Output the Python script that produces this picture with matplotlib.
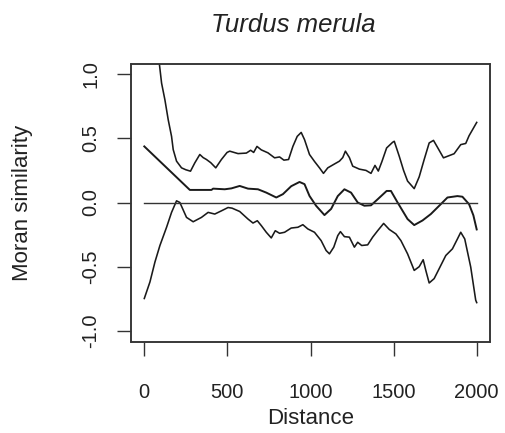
import matplotlib
matplotlib.use("Agg")
import matplotlib.pyplot as plt
from matplotlib.patches import Rectangle

plt.rcParams['font.family'] = ['Liberation Sans', 'DejaVu Sans']

# Data (distance vs Moran similarity)
upper_x = [0, 40, 80, 104, 124, 144, 164, 174, 194, 224, 250, 278, 304, 334, 354, 374, 400, 430, 464,
           498, 514, 564, 614, 640, 658, 678, 704, 744, 784, 814, 840, 868, 894, 920, 944, 964, 994,
           1024, 1054, 1078, 1104, 1144, 1174, 1194, 1210, 1234, 1254, 1294, 1334, 1364, 1388, 1408,
           1430, 1458, 1494, 1504, 1534, 1560, 1584, 1624, 1654, 1684, 1714, 1740, 1764, 1800, 1834,
           1864, 1904, 1934, 1954, 2000]
upper_y = [2.1, 1.6, 1.2, 0.93, 0.80, 0.644, 0.515, 0.412, 0.322, 0.27, 0.255, 0.244, 0.309, 0.374,
           0.35, 0.335, 0.31, 0.27, 0.335, 0.39, 0.40, 0.381, 0.385, 0.407, 0.39, 0.437, 0.41, 0.387,
           0.348, 0.355, 0.33, 0.335, 0.437, 0.515, 0.546, 0.49, 0.374, 0.32, 0.27, 0.227, 0.27, 0.30,
           0.322, 0.35, 0.40, 0.35, 0.283, 0.26, 0.25, 0.227, 0.289, 0.245, 0.32, 0.425, 0.469, 0.477,
           0.36, 0.25, 0.167, 0.108, 0.2, 0.335, 0.464, 0.484, 0.43, 0.348, 0.365, 0.38, 0.451, 0.46,
           0.52, 0.624]

obs_x = [0, 274, 404, 414, 484, 524, 574, 624, 684, 734, 794, 834, 884, 934, 964, 994, 1034, 1084,
         1124, 1164, 1204, 1244, 1284, 1324, 1364, 1404, 1458, 1484, 1524, 1584, 1624, 1674, 1724,
         1784, 1824, 1884, 1914, 1954, 1980, 2000]
obs_y = [0.437, 0.098, 0.098, 0.108, 0.103, 0.11, 0.129, 0.108, 0.103, 0.077, 0.039, 0.065, 0.127,
         0.16, 0.143, 0.051, -0.026, -0.098, -0.05, 0.05, 0.103, 0.077, 0.0, -0.025, -0.022, 0.025,
         0.09, 0.09, 0.0, -0.129, -0.176, -0.14, -0.09, -0.013, 0.039, 0.05, 0.045, -0.013, -0.10,
         -0.21]

lower_x = [0, 34, 64, 94, 134, 164, 194, 214, 254, 294, 344, 384, 424, 464, 504, 528, 574, 624, 654,
           680, 704, 734, 764, 788, 814, 844, 884, 924, 954, 984, 1024, 1064, 1094, 1114, 1140, 1164,
           1180, 1204, 1234, 1264, 1284, 1308, 1344, 1374, 1404, 1440, 1474, 1514, 1544, 1584, 1624,
           1654, 1678, 1694, 1714, 1744, 1774, 1814, 1854, 1884, 1904, 1928, 1964, 1994, 2000]
lower_y = [-0.748, -0.619, -0.464, -0.335, -0.193, -0.077, 0.013, 0.0, -0.116, -0.15, -0.116, -0.077,
           -0.09, -0.065, -0.039, -0.044, -0.07, -0.129, -0.16, -0.142, -0.18, -0.232, -0.276, -0.22,
           -0.24, -0.232, -0.199, -0.193, -0.173, -0.206, -0.232, -0.297, -0.374, -0.40, -0.348,
           -0.258, -0.227, -0.266, -0.27, -0.348, -0.31, -0.335, -0.33, -0.27, -0.22, -0.163, -0.21,
           -0.245, -0.297, -0.40, -0.529, -0.50, -0.446, -0.53, -0.627, -0.593, -0.516, -0.413,
           -0.361, -0.284, -0.232, -0.284, -0.503, -0.761, -0.78]

x_ticks = [0, 500, 1000, 1500, 2000]
y_ticks = [-1.0, -0.5, 0.0, 0.5, 1.0]
y_tick_labels = ["-1.0", "-0.5", "0.0", "0.5", "1.0"]

W, H = 506, 433
fig = plt.figure(figsize=(W / 100, H / 100), dpi=100)
ax = fig.add_axes([131 / W, 1 - 341.5 / H, (490 - 131) / W, (341.5 - 63.5) / H])

line_col = '#1a1a1a'
ax.plot(upper_x, upper_y, color=line_col, lw=1.15)
ax.plot(obs_x, obs_y, color=line_col, lw=1.4)
ax.plot(lower_x, lower_y, color=line_col, lw=1.15)
ax.plot([x_ticks[0], x_ticks[-1]], [0, 0], color='#333333', lw=1.0)

ax.set_xlim(-80, 2080)
ax.set_ylim(-1.083, 1.083)

txt = '#222222'
for s in ax.spines.values():
    s.set_visible(True)
    s.set_color('#333333')
    s.set_linewidth(1.1)
    s.set_zorder(5)
ax.add_patch(Rectangle((0, 0), 1, 1, transform=ax.transAxes, fill=False,
                       edgecolor='#333333', lw=1.1, clip_on=False, zorder=6))

ax.set_xticks(x_ticks)
ax.set_xticklabels([str(t) for t in x_ticks])
ax.set_yticks(y_ticks)
ax.set_yticklabels(y_tick_labels, rotation=90, va='center')
ax.tick_params(axis='both', direction='out', length=10, width=1.0, color='#333333',
               labelsize=14.5, labelcolor=txt)
ax.tick_params(axis='x', pad=20)
ax.tick_params(axis='y', pad=12)

ax.set_xlabel('Distance', fontsize=16, color=txt, labelpad=4)
ax.set_ylabel('Moran similarity', fontsize=16, color=txt, labelpad=35)
ax.set_title('Turdus merula', fontsize=18.5, style='italic', color=txt, pad=23,
             x=(293 - 131) / (490 - 131))

fig.savefig('out.png', dpi=100)
